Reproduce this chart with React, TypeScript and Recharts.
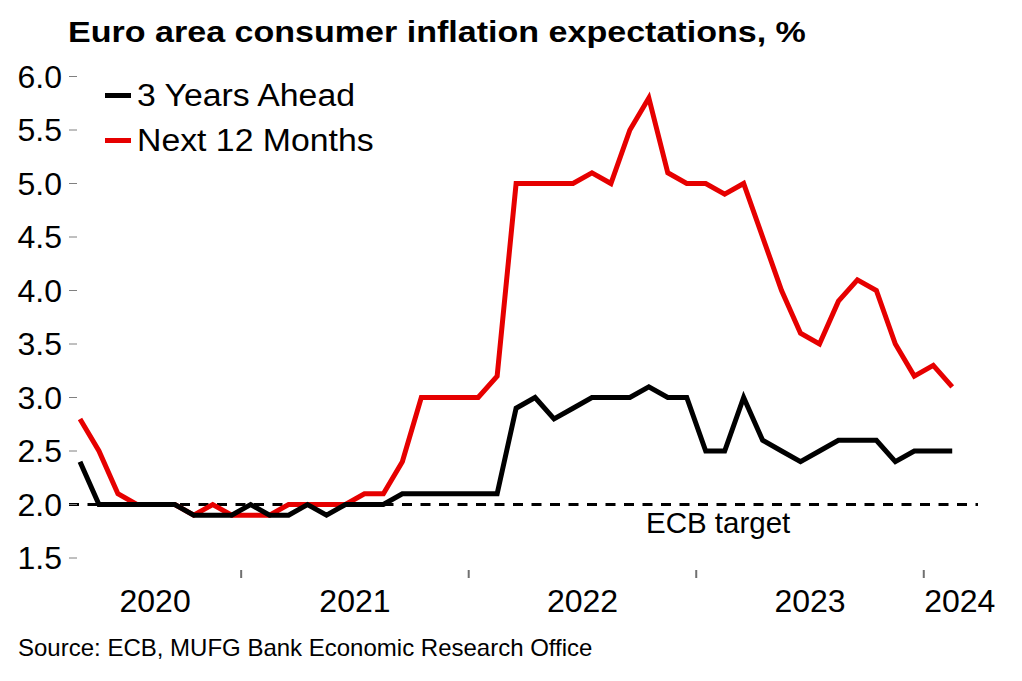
import React from 'react';
import { LineChart, Line, XAxis, YAxis, ReferenceLine } from 'recharts';

// monthly survey rounds, Apr 2020 - Feb 2024
const months = [
  '2020-04', '2020-05', '2020-06', '2020-07', '2020-08', '2020-09', '2020-10', '2020-11', '2020-12',
  '2021-01', '2021-02', '2021-03', '2021-04', '2021-05', '2021-06', '2021-07', '2021-08', '2021-09', '2021-10', '2021-11', '2021-12',
  '2022-01', '2022-02', '2022-03', '2022-04', '2022-05', '2022-06', '2022-07', '2022-08', '2022-09', '2022-10', '2022-11', '2022-12',
  '2023-01', '2023-02', '2023-03', '2023-04', '2023-05', '2023-06', '2023-07', '2023-08', '2023-09', '2023-10', '2023-11', '2023-12',
  '2024-01', '2024-02',
];

const threeYearsAhead = [
  2.4, 2.0, 2.0, 2.0, 2.0, 2.0, 1.9, 1.9, 1.9,
  2.0, 1.9, 1.9, 2.0, 1.9, 2.0, 2.0, 2.0, 2.1, 2.1, 2.1, 2.1,
  2.1, 2.1, 2.9, 3.0, 2.8, 2.9, 3.0, 3.0, 3.0, 3.1, 3.0, 3.0,
  2.5, 2.5, 3.0, 2.6, 2.5, 2.4, 2.5, 2.6, 2.6, 2.6, 2.4, 2.5,
  2.5, 2.5,
];

const next12Months = [
  2.8, 2.5, 2.1, 2.0, 2.0, 2.0, 1.9, 2.0, 1.9,
  1.9, 1.9, 2.0, 2.0, 2.0, 2.0, 2.1, 2.1, 2.4, 3.0, 3.0, 3.0,
  3.0, 3.2, 5.0, 5.0, 5.0, 5.0, 5.1, 5.0, 5.5, 5.8, 5.1, 5.0,
  5.0, 4.9, 5.0, 4.5, 4.0, 3.6, 3.5, 3.9, 4.1, 4.0, 3.5, 3.2,
  3.3, 3.1,
];

const yTicks = [1.5, 2.0, 2.5, 3.0, 3.5, 4.0, 4.5, 5.0, 5.5, 6.0];
const yearLabels = ['2020', '2021', '2022', '2023', '2024'];
const yearLabelPos = [3.96, 14.5, 26.5, 38.5, 46.4];
const ecbTarget = 2.0;

const FONT = "'Liberation Sans', Arial, sans-serif";
const RED = '#e60000';

const data = months.map((m, i) => ({
  i,
  month: m,
  threeYears: threeYearsAhead[i],
  next12: next12Months[i],
}));

// year boundaries sit half a month before each January
const yearBreaks = months
  .map((m, i) => (m.endsWith('-01') ? i - 0.5 : null))
  .filter((v): v is number => v !== null);

const xTicks = [...yearBreaks, ...yearLabelPos];

function YTick(props: any) {
  const { x, y, payload } = props;
  return (
    <g>
      <line x1={x} x2={x + 8} y1={y} y2={y} stroke="#808080" strokeWidth={1} />
      <text x={x - 7} y={y} dy="0.355em" textAnchor="end" fontSize={32} fontFamily={FONT} fill="#000">
        {Number(payload.value).toFixed(1)}
      </text>
    </g>
  );
}

function XTick(props: any) {
  const { x, y, payload } = props;
  const idx = yearLabelPos.indexOf(payload.value);
  if (idx === -1) {
    return <line x1={x} x2={x} y1={y + 12} y2={y + 20} stroke="#707070" strokeWidth={2} />;
  }
  return (
    <text x={x} y={y + 43} dy="0.355em" textAnchor="middle" fontSize={32} fontFamily={FONT} fill="#000">
      {yearLabels[idx]}
    </text>
  );
}

export default function App() {
  return (
    <div style={{ position: 'absolute', left: 0, top: 0, width: 1022, height: 681, background: '#fff', fontFamily: FONT }}>
      <div
        style={{
          position: 'absolute',
          left: 68,
          top: 14,
          fontSize: 29,
          fontWeight: 'bold',
          lineHeight: '36px',
          whiteSpace: 'nowrap',
          transform: 'scaleX(1.174)',
          transformOrigin: 'left center',
        }}
      >
        Euro area consumer inflation expectations, %
      </div>

      <LineChart
        width={1022}
        height={681}
        data={data}
        margin={{ top: 76.5, right: 44, bottom: 63, left: 0 }}
      >
        <XAxis
          type="number"
          dataKey="i"
          domain={[-0.58, 47.36]}
          ticks={xTicks}
          interval={0}
          tick={<XTick />}
          tickLine={false}
          axisLine={false}
          tickSize={0}
          tickMargin={0}
          height={60}
          allowDataOverflow
        />
        <YAxis
          type="number"
          domain={[1.5, 6]}
          ticks={yTicks}
          interval={0}
          tick={<YTick />}
          tickLine={false}
          axisLine={false}
          tickSize={0}
          tickMargin={0}
          width={69}
        />
        <ReferenceLine y={ecbTarget} stroke="#000" strokeWidth={3} strokeDasharray="10 8.5" />
        <Line
          type="linear"
          dataKey="next12"
          stroke={RED}
          strokeWidth={5}
          dot={false}
          isAnimationActive={false}
        />
        <Line
          type="linear"
          dataKey="threeYears"
          stroke="#000"
          strokeWidth={5}
          dot={false}
          isAnimationActive={false}
        />
      </LineChart>

      <div style={{ position: 'absolute', left: 105, top: 73, fontSize: 31, lineHeight: '40px' }}>
        {[
          { label: '3 Years Ahead', color: '#000' },
          { label: 'Next 12 Months', color: RED },
        ].map((item) => (
          <div key={item.label} style={{ display: 'flex', alignItems: 'center', height: 45 }}>
            <span style={{ display: 'inline-block', width: 26, height: 5, background: item.color, marginRight: 6 }} />
            <span style={{ whiteSpace: 'nowrap', display: 'inline-block', transform: 'scaleX(1.09)', transformOrigin: 'left center' }}>
              {item.label}
            </span>
          </div>
        ))}
      </div>

      <div style={{ position: 'absolute', left: 646, top: 506, fontSize: 29.5, lineHeight: '34px', whiteSpace: 'nowrap' }}>
        ECB target
      </div>

      <div style={{ position: 'absolute', left: 18, top: 634, fontSize: 24, lineHeight: '28px', whiteSpace: 'nowrap' }}>
        Source: ECB, MUFG Bank Economic Research Office
      </div>
    </div>
  );
}
